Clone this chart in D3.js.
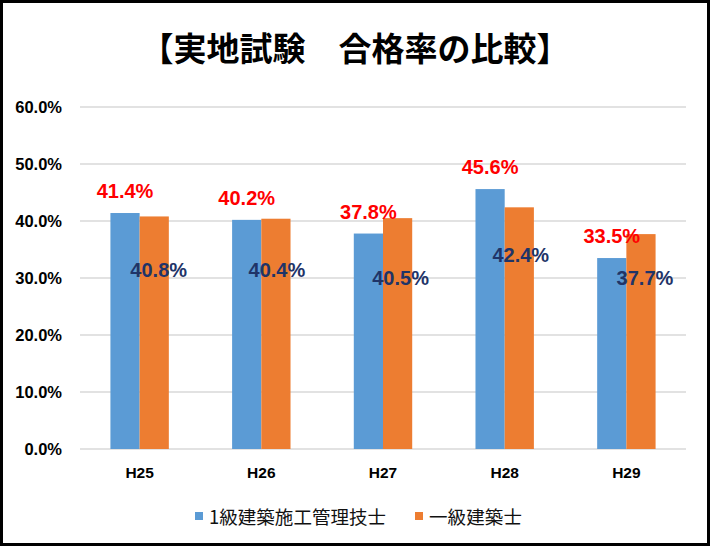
<!DOCTYPE html>
<html>
<head>
<meta charset="utf-8">
<script src="https://cdn.jsdelivr.net/npm/d3@7/dist/d3.min.js"></script>
<style>
  html, body { margin: 0; padding: 0; background: #fff; }
  svg { display: block; }
</style>
</head>
<body>
<script>
// ---- data ----
const title = "【実地試験　合格率の比較】";
const categories = ["H25", "H26", "H27", "H28", "H29"];
const seriesNames = ["1級建築施工管理技士", "一級建築士"];
const seriesA = [0.414, 0.402, 0.378, 0.456, 0.335]; // 1級建築施工管理技士
const seriesB = [0.408, 0.404, 0.405, 0.424, 0.377]; // 一級建築士
const yTicks = [0, 0.1, 0.2, 0.3, 0.4, 0.5, 0.6];

// ---- layout / style ----
const W = 710, H = 546;
const colors = ["#5B9BD5", "#ED7D31"];
const labelColors = ["#FF0000", "#1F3468"];
// manual placement of the 一級建築士 labels (offset from the orange bar's top centre)
const labelBShift = [[4.5, 53.6], [1, 51.3], [3, 59.8], [1.5, 47.7], [4, 43.9]];

const svg = d3.select("body").append("svg")
  .attr("width", W).attr("height", H);

svg.append("rect").attr("x", 0).attr("y", 0).attr("width", W).attr("height", H).attr("fill", "#fff");

const x0 = d3.scaleBand().domain(categories).range([80, 686])
  .paddingInner(0.52).paddingOuter(0.25);
const x1 = d3.scaleBand().domain([0, 1]).range([0, x0.bandwidth()]);
const y = d3.scaleLinear().domain([0, 0.6]).range([449, 107]);

// title
svg.append("text")
  .attr("x", 355).attr("y", 47)
  .attr("text-anchor", "middle").attr("dominant-baseline", "central")
  .attr("font-family", "'Noto Sans CJK JP', 'Noto Sans CJK SC', sans-serif")
  .attr("font-weight", "bold").attr("font-size", 33)
  .attr("fill", "#000")
  .text(title);

// gridlines
svg.append("g").selectAll("line").data(yTicks).join("line")
  .attr("x1", 80).attr("x2", 686)
  .attr("y1", d => y(d)).attr("y2", d => y(d))
  .attr("stroke", "#D9D9D9").attr("stroke-width", 1.5);

// y axis (labels only)
const yAxis = d3.axisLeft(y).tickValues(yTicks).tickFormat(d3.format(".1%")).tickSize(0).tickPadding(0);
const gy = svg.append("g").attr("transform", "translate(62,0)").call(yAxis);
gy.select(".domain").remove();
gy.selectAll("text")
  .attr("font-family", "'Liberation Sans', Arial, sans-serif")
  .attr("font-weight", "bold").attr("font-size", 16.5).attr("fill", "#000")
  .attr("dy", "0.35em");

// x axis (labels only)
const xAxis = d3.axisBottom(x0).tickSize(0).tickPadding(0);
const gx = svg.append("g").attr("transform", "translate(0,473)").call(xAxis);
gx.select(".domain").remove();
gx.selectAll("text")
  .attr("font-family", "'Liberation Sans', Arial, sans-serif")
  .attr("font-weight", "bold").attr("font-size", 15.5).attr("fill", "#000")
  .attr("dy", "0.35em");

const rows = categories.map((c, i) => ({ cat: c, i, vals: [seriesA[i], seriesB[i]] }));

// bars
const groups = svg.append("g").selectAll("g").data(rows).join("g")
  .attr("transform", d => `translate(${x0(d.cat)},0)`);
groups.selectAll("rect").data(d => d.vals.map((v, s) => ({ v, s }))).join("rect")
  .attr("x", d => x1(d.s)).attr("width", x1.bandwidth())
  .attr("y", d => y(d.v)).attr("height", d => y(0) - y(d.v))
  .attr("fill", d => colors[d.s]);

const fmt = d3.format(".1%");
// labels series A (outside end)
svg.append("g").selectAll("text").data(rows).join("text")
  .attr("x", d => x0(d.cat) + x1(0) + x1.bandwidth() / 2)
  .attr("y", d => y(d.vals[0]) - 22)
  .attr("text-anchor", "middle").attr("dominant-baseline", "central")
  .attr("font-family", "'Liberation Sans', Arial, sans-serif")
  .attr("font-weight", "bold").attr("font-size", 20)
  .attr("fill", labelColors[0])
  .text(d => fmt(d.vals[0]));

// labels series B (manually placed)
svg.append("g").selectAll("text").data(rows).join("text")
  .attr("x", d => x0(d.cat) + x1(1) + x1.bandwidth() / 2 + labelBShift[d.i][0])
  .attr("y", d => y(d.vals[1]) + labelBShift[d.i][1])
  .attr("text-anchor", "middle").attr("dominant-baseline", "central")
  .attr("font-family", "'Liberation Sans', Arial, sans-serif")
  .attr("font-weight", "bold").attr("font-size", 20)
  .attr("fill", labelColors[1])
  .text(d => fmt(d.vals[1]));

// legend
const legendPos = [[195, 209, 177], [415, 429, 93]];
const lg = svg.append("g").selectAll("g").data(seriesNames).join("g");
lg.append("rect")
  .attr("x", (d, i) => legendPos[i][0]).attr("y", 512)
  .attr("width", 8).attr("height", 8)
  .attr("fill", (d, i) => colors[i]);
lg.append("text")
  .attr("x", (d, i) => legendPos[i][1]).attr("y", 516)
  .attr("dominant-baseline", "central")
  .attr("textLength", (d, i) => legendPos[i][2]).attr("lengthAdjust", "spacing")
  .attr("font-family", "'Noto Sans CJK JP', 'Noto Sans CJK SC', sans-serif")
  .attr("font-size", 18.5).attr("fill", "#111")
  .text(d => d);

// frame
svg.append("rect")
  .attr("x", 1.5).attr("y", 1.5).attr("width", W - 3).attr("height", H - 3)
  .attr("fill", "none").attr("stroke", "#000").attr("stroke-width", 3);
</script>
</body>
</html>
